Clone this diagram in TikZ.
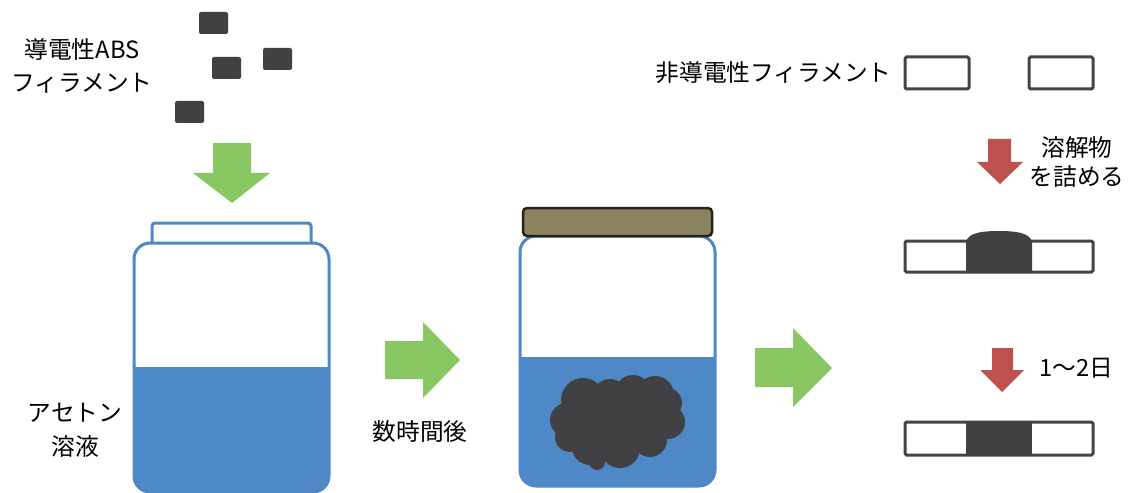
\documentclass[tikz,border=0pt]{standalone}
\usepackage{fontspec}
\setmainfont{Noto Sans CJK JP}
\usetikzlibrary{positioning}
\definecolor{jarblue}{RGB}{79,136,198}
\definecolor{arrowgreen}{RGB}{137,199,99}
\definecolor{arrowred}{RGB}{192,80,77}
\definecolor{blobgray}{RGB}{65,64,66}
\definecolor{lidfill}{RGB}{140,132,95}
\definecolor{lidframe}{RGB}{35,35,30}
\definecolor{filgray}{RGB}{68,68,70}

\begin{document}
\begin{tikzpicture}[x=0.2mm,y=-0.2mm,
  chip/.style={fill=blobgray,rounded corners=0.4mm},
  lbl/.style={font=\fontsize{13.5}{18.5}\selectfont,align=center,inner sep=0pt},
  jar/.style={draw=jarblue,line width=0.6mm,rounded corners=3.2mm},
  fil/.style={draw=filgray,fill=white,line width=0.6mm,rounded corners=0.3mm},
  garr/.style={fill=arrowgreen},
  rarr/.style={fill=arrowred},
]
\useasboundingbox (0,0) rectangle (1129,493);

% ---- Left: conductive ABS chips falling into acetone ----
\node[lbl] (abs) at (82,66) {導電性ABS\\フィラメント};
\foreach \x/\y in {199/12,212/57,263/48,175/101}{
  \fill[chip] (\x,\y) rectangle ++(29,22);
}
\fill[garr] (213,143) -- (251,143) -- (251,173) -- (270,173) -- (232,203)
  -- (193,173) -- (213,173) -- cycle;

% jar with acetone
\draw[jarblue,line width=0.6mm,fill=white,rounded corners=0.6mm] (152,243) -- (152,223) -- (311,223) -- (311,243);
\fill[white,rounded corners=3.2mm] (134,243) rectangle (329,492);
\begin{scope}
  \clip[rounded corners=3.2mm] (134,243) rectangle (329,492);
  \fill[jarblue] (134,367) rectangle (329,492);
\end{scope}
\draw[jar] (134,243) rectangle (329,492);
\node[lbl,font=\fontsize{13.5}{19.5}\selectfont] (acetone) at (75,430) {アセトン\\溶液};

% ---- Arrow: some hours later ----
\fill[garr] (385,341) -- (423,341) -- (423,322) -- (460,360) -- (423,398)
  -- (423,379) -- (385,379) -- cycle;
\node[lbl] (hours) at (420,432) {数時間後};

% ---- Middle: closed jar with dissolved ABS ----
\fill[white,rounded corners=3.2mm] (520,236) rectangle (715,486);
\begin{scope}
  \clip[rounded corners=3.2mm] (520,236) rectangle (715,486);
  \fill[jarblue] (520,357) rectangle (715,486);
\end{scope}
\draw[jar] (520,236) rectangle (715,486);
\draw[draw=lidframe,fill=lidfill,line width=0.5mm,rounded corners=0.8mm]
  (523,208) rectangle (712,236);
% dissolved lump
\fill[blobgray] (617,423) ellipse [x radius=50,y radius=26];
\foreach \x/\y/\r in {583/400/22,610/397/18,633/393/18,655/395/19,667/403/15,
  668/422/17,650/440/17,620/448/20,590/447/18,567/420/17,570/437/15,597/462/8}{
  \fill[blobgray] (\x,\y) circle (\r);
}

\fill[garr] (755,348) -- (793,348) -- (793,328) -- (832,368) -- (793,407)
  -- (793,387) -- (755,387) -- cycle;

% ---- Right: filling the gap in the filament ----
\node[lbl,anchor=east] (plain) at (892,73) {非導電性フィラメント};
\draw[fil] (905,57) rectangle (969,89);
\draw[fil] (1029,57) rectangle (1093,89);

\fill[rarr] (988,139) -- (1011,139) -- (1011,162) -- (1023,162) -- (1000,184)
  -- (977,162) -- (988,162) -- cycle;
\node[lbl,font=\fontsize{13.5}{17}\selectfont] (fill) at (1077,162) {溶解物\\を詰める};

\draw[fil] (905,241) rectangle (1093,272);
\fill[blobgray] (966,273) -- (966,242) .. controls (968,232) and (985,231) .. (999,231)
  .. controls (1013,231) and (1030,232) .. (1032,242) -- (1032,273) -- cycle;

\fill[rarr] (992,348) -- (1013,348) -- (1013,370) -- (1024,370) -- (1002,392)
  -- (980,370) -- (992,370) -- cycle;
\node[lbl,anchor=west] (days) at (1039,368) {1〜2日};

\draw[fil] (905,422) rectangle (1093,455);
\fill[blobgray] (966,421) rectangle (1032,456);
\end{tikzpicture}
\end{document}
